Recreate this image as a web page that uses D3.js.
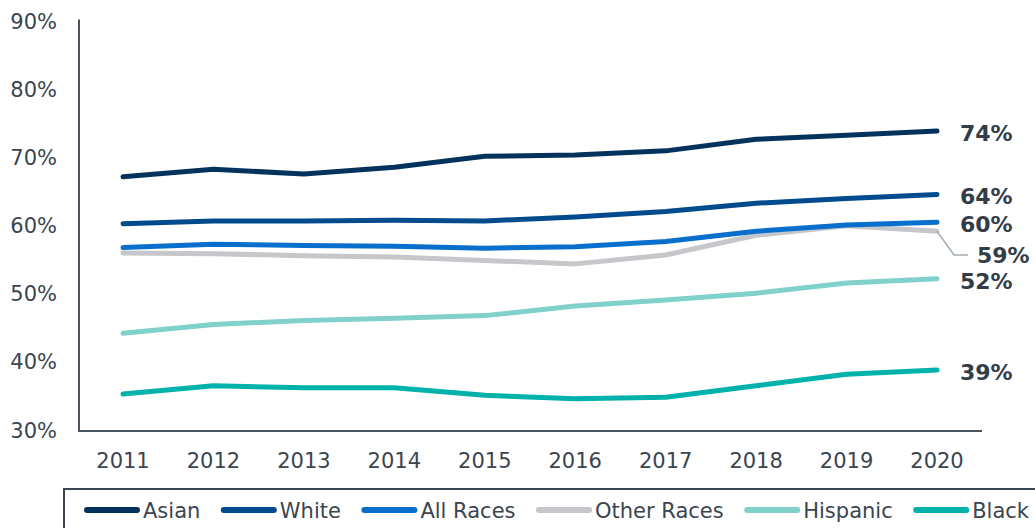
<html>
<head>
<title>Rates by race</title>
<script src="https://d3js.org/d3.v7.min.js" charset="utf-8"></script>
<style>
body { margin: 0; background: white; }
text { font-family: "DejaVu Sans", Verdana, sans-serif; fill: #3b4550; }
</style>
</head>
<body>
<script>
  // chart values
  var years = [2011, 2012, 2013, 2014, 2015, 2016, 2017, 2018, 2019, 2020];
  var yTicks = [30, 40, 50, 60, 70, 80, 90];

  var asian = [67.2, 68.3, 67.6, 68.6, 70.2, 70.4, 71.0, 72.7, 73.3, 73.9];
  var white = [60.3, 60.7, 60.7, 60.8, 60.7, 61.3, 62.1, 63.3, 64.0, 64.6];
  var allRaces = [56.8, 57.3, 57.1, 57.0, 56.7, 56.9, 57.7, 59.2, 60.1, 60.5];
  var otherRaces = [56.0, 55.9, 55.6, 55.4, 54.9, 54.4, 55.7, 58.6, 60.0, 59.2];
  var hispanic = [44.2, 45.5, 46.1, 46.4, 46.8, 48.2, 49.1, 50.1, 51.6, 52.2];
  var black = [35.3, 36.5, 36.2, 36.2, 35.1, 34.6, 34.8, 36.5, 38.2, 38.8];

  var seriesNames = ["Asian", "White", "All Races", "Other Races", "Hispanic", "Black"];
  var seriesValues = [asian, white, allRaces, otherRaces, hispanic, black];
  var endLabels = ["74%", "64%", "60%", "59%", "52%", "39%"];
  var colors = ["#03335c", "#004b8d", "#0870cc", "#c5c7ca", "#80d0cc", "#01b1ab"];

  var width = 1035;
  var height = 528;

  var svg = d3.select("body")
    .append("svg")
    .attr("width", width)
    .attr("height", height);

  var x = d3.scalePoint().domain(years).range([123, 937]);
  var y = d3.scaleLinear().domain([30, 90]).range([430, 21.5]);

  // axes
  svg.append("line")
    .attr("x1", 79).attr("x2", 79)
    .attr("y1", y(90) - 2).attr("y2", y(30) + 1)
    .attr("stroke", "#4a5460").attr("stroke-width", 2);
  svg.append("line")
    .attr("x1", 78).attr("x2", 982)
    .attr("y1", y(30) + 1).attr("y2", y(30) + 1)
    .attr("stroke", "#4a5460").attr("stroke-width", 2);

  svg.selectAll(".ytick")
    .data(yTicks)
    .enter()
    .append("text")
    .attr("class", "ytick")
    .attr("x", 57)
    .attr("y", function(d) { return y(d); })
    .attr("dy", "0.36em")
    .attr("text-anchor", "end")
    .style("font-size", "21px")
    .text(function(d) { return d + "%"; });

  svg.selectAll(".xtick")
    .data(years)
    .enter()
    .append("text")
    .attr("class", "xtick")
    .attr("x", function(d) { return x(d); })
    .attr("y", 460)
    .attr("dy", "0.36em")
    .attr("text-anchor", "middle")
    .style("font-size", "21px")
    .text(function(d) { return d; });

  // lines, drawn bottom of legend order first so Asian sits on top
  var line = d3.line()
    .x(function(d, i) { return x(years[i]); })
    .y(function(d) { return y(d); });

  var order = [5, 4, 3, 2, 1, 0];
  svg.selectAll(".series")
    .data(order)
    .enter()
    .append("path")
    .attr("class", "series")
    .attr("fill", "none")
    .attr("stroke", function(i) { return colors[i]; })
    .attr("stroke-width", 5)
    .attr("stroke-linecap", "round")
    .attr("stroke-linejoin", "round")
    .attr("d", function(i) { return line(seriesValues[i]); });

  // end labels
  var labelY = [133, 196, 224, 255, 281, 372];
  var labelX = [960, 960, 960, 977, 960, 960];
  svg.selectAll(".endlabel")
    .data(endLabels)
    .enter()
    .append("text")
    .attr("class", "endlabel")
    .attr("x", function(d, i) { return labelX[i]; })
    .attr("y", function(d, i) { return labelY[i]; })
    .attr("dy", "0.36em")
    .style("font-size", "22px")
    .style("font-weight", "bold")
    .style("fill", "#333d48")
    .text(function(d) { return d; });

  // leader line for Other Races
  var lx = x(2020), ly = y(otherRaces[9]);
  svg.append("path")
    .attr("d", "M" + lx + "," + ly + "L" + 954 + "," + 255 + "L" + 968 + "," + 255)
    .attr("fill", "none")
    .attr("stroke", "#a3adb8")
    .attr("stroke-width", 1.5);

  // legend
  svg.append("rect")
    .attr("x", 64).attr("y", 489)
    .attr("width", 1000).attr("height", 60)
    .attr("fill", "none")
    .attr("stroke", "#3b4550")
    .attr("stroke-width", 2);

  var lg = svg.append("g");
  var cx = 85;
  seriesNames.forEach(function(name, i) {
    lg.append("line")
      .attr("x1", cx + 2).attr("x2", cx + 52)
      .attr("y1", 510).attr("y2", 510)
      .attr("stroke", colors[i])
      .attr("stroke-width", 6)
      .attr("stroke-linecap", "round");
    var t = lg.append("text")
      .attr("x", cx + 58)
      .attr("y", 510)
      .attr("dy", "0.36em")
      .style("font-size", "21px")
      .text(name);
    cx = cx + 58 + t.node().getComputedTextLength() + 21.5;
  });
</script>
</body>
</html>
